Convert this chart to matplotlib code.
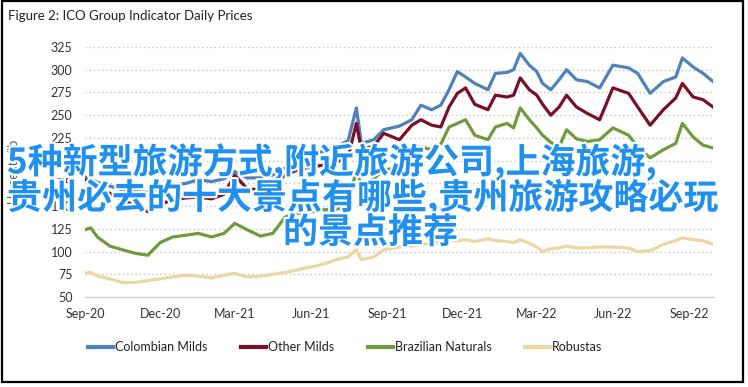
import matplotlib
matplotlib.use("Agg")
import matplotlib.pyplot as plt
import matplotlib.patheffects as pe
from matplotlib.patches import Rectangle
from matplotlib.lines import Line2D
from matplotlib import font_manager as fm
import pandas as pd

# ---------------- data ----------------
dates = ["2020-09-01", "2020-09-08", "2020-09-16", "2020-10-01", "2020-10-16", "2020-11-01",
         "2020-11-16", "2020-12-01", "2020-12-16", "2021-01-01", "2021-01-16", "2021-02-01",
         "2021-02-16", "2021-03-01", "2021-03-16", "2021-04-01", "2021-04-16", "2021-05-01",
         "2021-05-16", "2021-06-01", "2021-06-16", "2021-07-01", "2021-07-16", "2021-07-26",
         "2021-08-01", "2021-08-16", "2021-08-28", "2021-09-16", "2021-10-01", "2021-10-12",
         "2021-10-25", "2021-11-05", "2021-11-15", "2021-11-25", "2021-12-05", "2021-12-16",
         "2022-01-01", "2022-01-10", "2022-01-24", "2022-02-01", "2022-02-09", "2022-02-20",
         "2022-03-01", "2022-03-08", "2022-03-18", "2022-03-28", "2022-04-06", "2022-04-18",
         "2022-05-01", "2022-05-16", "2022-06-01", "2022-06-20", "2022-07-01", "2022-07-16",
         "2022-08-01", "2022-08-16", "2022-08-24", "2022-09-06", "2022-09-18", "2022-09-30"]

colombian_milds = [182, 180, 176, 172, 168, 166, 165, 170, 173, 175, 179, 177,
                   180, 188, 181, 181, 184, 192, 201, 208, 210, 215, 222, 258,
                   219, 223, 234, 238, 245, 261, 256, 261, 278, 298, 292, 285,
                   278, 296, 297, 300, 318, 305, 298, 285, 278, 289, 300, 289,
                   287, 280, 305, 302, 296, 274, 287, 292, 313, 303, 296, 287]

other_milds = [179, 176, 168, 164, 157, 150, 144, 152, 157, 159, 160, 158,
               163, 184, 169, 168, 174, 184, 190, 193, 195, 198, 204, 241,
               212, 216, 230, 223, 239, 245, 239, 237, 259, 274, 280, 262,
               256, 272, 270, 272, 291, 278, 272, 262, 250, 259, 272, 259,
               252, 245, 280, 274, 259, 239, 256, 269, 285, 270, 267, 259]

brazilian_naturals = [124, 126, 116, 106, 102, 98, 96, 110, 116, 118, 120, 116,
                      120, 131, 124, 117, 120, 138, 142, 144, 146, 146, 152, 190,
                      172, 180, 190, 192, 205, 215, 212, 218, 237, 241, 245, 228,
                      223, 237, 241, 236, 258, 245, 236, 228, 220, 215, 234, 224,
                      221, 223, 236, 228, 215, 203, 212, 219, 241, 226, 217, 214]

robustas = [76, 77, 73, 70, 66, 66, 68, 70, 72, 74, 73, 71,
            74, 76, 72, 73, 75, 77, 80, 83, 86, 91, 94, 102,
            91, 94, 102, 105, 106, 108, 109, 111, 113, 112, 113, 111,
            114, 112, 111, 110, 113, 109, 105, 100, 103, 104, 106, 104,
            104, 105, 105, 104, 100, 101, 108, 112, 115, 113, 112, 108]

series_names = ["Colombian Milds", "Other Milds", "Brazilian Naturals", "Robustas"]
series_colors = ["#4f81bd", "#7a0f28", "#6f9b3c", "#eed6a4"]

tick_dates = ["2020-09-01", "2020-12-01", "2021-03-01", "2021-06-01", "2021-09-01",
              "2021-12-01", "2022-03-01", "2022-06-01", "2022-09-01"]
tick_labels = ["Sep-20", "Dec-20", "Mar-21", "Jun-21", "Sep-21",
               "Dec-21", "Mar-22", "Jun-22", "Sep-22"]
y_ticks = [50, 75, 100, 125, 150, 175, 200, 225, 250, 275, 300, 325]

title = "Figure 2: ICO Group Indicator Daily Prices"
y_label = "US cents/lb"
overlay_lines = ["5种新型旅游方式,附近旅游公司,上海旅游,",
                 "贵州必去的十大景点有哪些,贵州旅游攻略必玩",
                 "的景点推荐"]

# ---------------- fonts ----------------
available = {f.name for f in fm.fontManager.ttflist}
latin_font = "Lato" if "Lato" in available else "DejaVu Sans"
cjk_font = "Noto Sans CJK SC"
plt.rcParams["font.family"] = [latin_font, "DejaVu Sans"]

# ---------------- figure ----------------
W, H = 748, 387
fig = plt.figure(figsize=(W / 100, H / 100), dpi=100)

def fx(px):
    return px / W

def fy(py):
    return 1 - py / H

ax_left, ax_right, ax_top, ax_bottom = 85, 713, 47, 297
ax = fig.add_axes([fx(ax_left), fy(ax_bottom), (ax_right - ax_left) / W, (ax_bottom - ax_top) / H])

x = pd.to_datetime(dates)
for vals, name, col in zip([colombian_milds, other_milds, brazilian_naturals, robustas],
                           series_names, series_colors):
    ax.plot(x, vals, color=col, lw=2.3, label=name, solid_joinstyle="round", zorder=3)

ax.set_xlim(pd.Timestamp("2020-09-01"), pd.Timestamp("2022-09-30"))
ax.set_ylim(50, 325)
ax.set_xticks(pd.to_datetime(tick_dates))
ax.set_xticklabels(tick_labels)
ax.set_yticks(y_ticks)
ax.tick_params(axis="both", length=0, labelsize=9, colors="#333333")
ax.tick_params(axis="y", pad=9)
ax.tick_params(axis="x", pad=8)

for v in y_ticks[1:]:
    ax.axhline(v, color="#c4c4c4", lw=1.0, linestyle=(0, (1, 2)), zorder=1)
for s in ["top", "right", "left"]:
    ax.spines[s].set_visible(False)
ax.spines["bottom"].set_color("#d0d0d0")
ax.spines["bottom"].set_linewidth(1.0)

# y label
fig.text(fx(14), fy(172), y_label, rotation=90, ha="center", va="center",
         fontsize=9, color="#595959")

# title
fig.text(fx(8), fy(16), title, ha="left", va="center", fontsize=9.5, color="#222222")

# legend
handles = [Line2D([], [], color=c, lw=3) for c in series_colors]
leg = fig.legend(handles, series_names, loc="center left",
                 bbox_to_anchor=(fx(88), fy(347)), ncol=4, frameon=False,
                 fontsize=9, handlelength=2.0, handletextpad=0.15,
                 columnspacing=2.7, borderpad=0, borderaxespad=0)
for t in leg.get_texts():
    t.set_color("#222222")

# border frame
fig.add_artist(Rectangle((fx(2), fy(382)), (743 - 2) / W, (382 - 1) / H,
                         transform=fig.transFigure, fill=False,
                         edgecolor="black", lw=1.6, zorder=10))

# overlay text
stroke = [pe.withStroke(linewidth=3, foreground="white")]
overlay_pos = [(7, 162, "left"), (7, 197.5, "left"), (283, 232.5, "left")]
for txt, (px, py, ha) in zip(overlay_lines, overlay_pos):
    fig.text(fx(px), fy(py), txt, ha=ha, va="center", fontsize=25.2,
             family=[cjk_font, "DejaVu Sans"], weight="bold",
             color="#2090f0", path_effects=stroke, zorder=20)

fig.savefig("out.png", dpi=100)
